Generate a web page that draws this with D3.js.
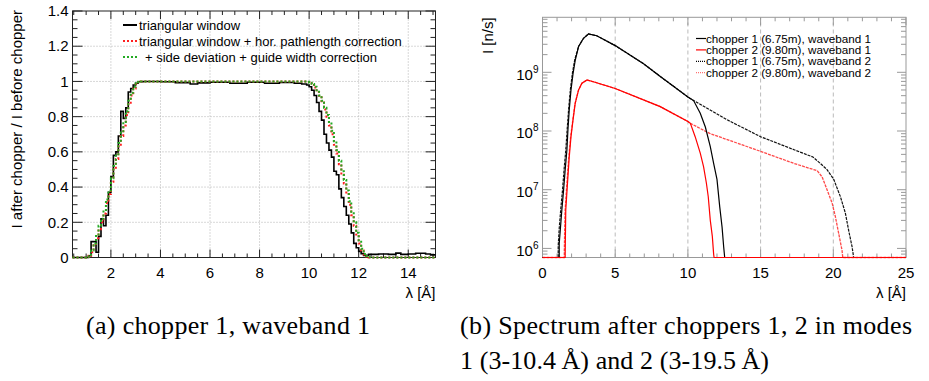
<!DOCTYPE html>
<html>
<head>
<meta charset="utf-8">
<script src="https://cdn.jsdelivr.net/npm/d3@7"></script>
<style>
  body { margin: 0; background: #fff; }
  text { font-family: "Liberation Sans", Arial, sans-serif; }
  .cap { font-family: "Liberation Serif", "DejaVu Serif", serif; }
</style>
</head>
<body>
<svg id="fig" width="929" height="381"></svg>
<script>
// ---------- panel (a): chopper 1, waveband 1 -- [lambda (Å), I after / I before]
const blackA = [[0.45,0],[1.1,0.01],[1.2,0.09],[1.4,0.03],[1.5,0.12],[1.6,0.22],[1.7,0.18],[1.8,0.24],
  [1.9,0.37],[2.0,0.46],[2.1,0.58],[2.2,0.6],[2.3,0.69],[2.4,0.83],[2.5,0.79],[2.6,0.85],[2.7,0.94],
  [2.8,0.96],[2.9,0.98],[3.0,0.99],[3.1,0.998],[3.3,1.0],[4.0,0.998],[4.6,0.993],[5.2,0.985],[5.5,0.992],
  [6.0,0.995],[6.8,0.99],[7.5,0.995],[8.2,0.99],[8.8,0.994],[9.4,0.99],[9.7,0.985],[9.9,0.98],[10.0,0.97],
  [10.1,0.95],[10.2,0.92],[10.3,0.88],[10.4,0.83],[10.5,0.78],[10.6,0.70],[10.7,0.65],[10.8,0.61],
  [10.9,0.57],[11.0,0.49],[11.1,0.47],[11.2,0.39],[11.3,0.34],[11.4,0.29],[11.5,0.24],[11.6,0.19],
  [11.7,0.14],[11.8,0.08],[11.9,0.055],[12.0,0.035],[12.1,0.022],[12.2,0.012],[12.4,0.018],[12.8,0.02],
  [13.2,0.018],[13.5,0.025],[13.7,0.018],[14.0,0.02],[14.3,0.024],[14.7,0.02],[14.9,0.015],[15.1,0.015]];

const redA = [[0.45,0],[1.0,0.003],[1.1,0.01],[1.2,0.03],[1.3,0.07],[1.4,0.11],[1.5,0.16],[1.6,0.2],
  [1.7,0.25],[1.8,0.31],[1.9,0.36],[2.0,0.43],[2.1,0.5],[2.2,0.56],[2.3,0.63],[2.4,0.69],[2.5,0.75],
  [2.6,0.81],[2.7,0.87],[2.8,0.92],[2.9,0.96],[3.0,0.985],[3.1,0.996],[3.2,1.0],[9.8,0.999],[9.9,0.997],
  [10.0,0.99],[10.1,0.98],[10.2,0.965],[10.3,0.94],[10.4,0.91],[10.5,0.88],[10.6,0.84],[10.7,0.8],
  [10.8,0.75],[10.9,0.7],[11.0,0.64],[11.1,0.59],[11.2,0.53],[11.3,0.47],[11.4,0.42],[11.5,0.36],
  [11.6,0.3],[11.7,0.24],[11.8,0.18],[11.9,0.13],[12.0,0.08],[12.1,0.04],[12.2,0.017],[12.3,0.006],
  [12.4,0],[15.1,0]];

const greenA = [[0.45,0],[1.0,0.004],[1.1,0.015],[1.2,0.04],[1.3,0.08],[1.4,0.13],[1.5,0.18],[1.6,0.22],
  [1.7,0.27],[1.8,0.33],[1.9,0.38],[2.0,0.45],[2.1,0.52],[2.2,0.58],[2.3,0.65],[2.4,0.71],[2.5,0.77],
  [2.6,0.83],[2.7,0.89],[2.8,0.935],[2.9,0.97],[3.0,0.99],[3.1,0.998],[3.2,1.0],[9.8,1.0],[9.9,0.998],
  [10.0,0.993],[10.1,0.985],[10.2,0.97],[10.3,0.95],[10.4,0.92],[10.5,0.89],[10.6,0.85],[10.7,0.81],
  [10.8,0.77],[10.9,0.72],[11.0,0.66],[11.1,0.61],[11.2,0.55],[11.3,0.49],[11.4,0.44],[11.5,0.38],
  [11.6,0.32],[11.7,0.26],[11.8,0.2],[11.9,0.14],[12.0,0.09],[12.1,0.05],[12.2,0.02],[12.3,0.008],
  [12.4,0.002],[12.5,0],[15.1,0]];

const legendA = ["triangular window", "triangular window + hor. pathlength correction",
  "+ side deviation + guide width correction"];
const xTicksA = [2, 4, 6, 8, 10, 12, 14];
const yTicksA = [0, 0.2, 0.4, 0.6, 0.8, 1, 1.2, 1.4];

// ---------- panel (b): spectrum after choppers -- [lambda (Å), I (n/s)]
const chop1wb1 = [[0,0],[1.15,0],[1.15,1.2e6],[1.22,2.0e6],[1.33,4.5e6],[1.45,9.8e6],[1.56,2.2e7],
  [1.68,4.8e7],[1.75,1.05e8],[1.84,2.3e8],[1.96,5.0e8],[2.1,9.5e8],[2.25,1.6e9],[2.48,2.75e9],
  [2.82,3.8e9],[3.16,4.5e9],[3.73,4.2e9],[5.0,2.85e9],[6.95,1.4e9],[8.1,8.5e8],[10.0,3.8e8],
  [10.39,3.3e8],[10.85,2.0e8],[11.2,1.17e8],[11.54,5.4e7],[11.77,2.8e7],[12.0,1.5e7],[12.19,5.1e6],
  [12.35,2.3e6],[12.46,1.07e6],[12.53,7e5],[12.53,0],[25,0]];

const chop2wb1 = [[0,0],[1.56,0],[1.56,8e5],[1.6,4.5e6],[1.72,1.3e7],[1.84,3.6e7],[1.96,8e7],
  [2.1,1.55e8],[2.25,2.95e8],[2.48,5e8],[2.71,6.5e8],[3.06,7.4e8],[3.5,6.9e8],[5.0,5.3e8],[8.1,2.6e8],
  [10.0,1.45e8],[10.17,1.35e8],[10.5,8e7],[10.85,4.2e7],[11.08,2.45e7],[11.27,1.3e7],[11.4,7.6e6],
  [11.54,3e6],[11.68,1.6e6],[11.77,8e5],[11.8,0],[25,0]];

const chop1wb2 = [[0,0],[1.08,0],[1.08,1.1e6],[1.15,2.2e6],[1.26,4.8e6],[1.38,1.0e7],[1.49,2.3e7],
  [1.61,5e7],[1.7,1.1e8],[1.8,2.4e8],[1.92,5.2e8],[2.06,9.8e8],[2.22,1.65e9],[2.48,2.75e9],
  [2.82,3.8e9],[3.16,4.5e9],[3.73,4.2e9],[5.0,2.85e9],[6.95,1.4e9],[8.1,8.5e8],[10.0,3.8e8],
  [10.39,3.3e8],[11.5,2.3e8],[12.7,1.55e8],[15.0,8e7],[17.3,4.8e7],[18.6,3.6e7],[19.11,2.8e7],
  [19.57,2.2e7],[20.03,1.5e7],[20.49,7.6e6],[20.83,4e6],[21.06,2.0e6],[21.29,1.07e6],[21.4,7e5],
  [21.4,0],[25,0]];

const chop2wb2 = [[0,0],[1.5,0],[1.5,9e5],[1.55,4.2e6],[1.67,1.2e7],[1.8,3.4e7],[1.93,7.8e7],
  [2.08,1.5e8],[2.23,2.9e8],[2.48,5e8],[2.71,6.5e8],[3.06,7.4e8],[3.5,6.9e8],[5.0,5.3e8],[8.1,2.6e8],
  [10.0,1.45e8],[10.17,1.35e8],[11.5,9.1e7],[15.0,4.5e7],[17.3,2.8e7],[18.65,2.2e7],[18.9,2.1e7],
  [19.23,1.65e7],[19.57,1e7],[19.92,5.9e6],[20.14,3.5e6],[20.37,1.8e6],[20.6,9.3e5],[20.65,7e5],
  [20.65,0],[25,0]];

const legendB = ["chopper 1 (6.75m), waveband 1", "chopper 2 (9.80m), waveband 1",
  "chopper 1 (6.75m), waveband 2", "chopper 2 (9.80m), waveband 2"];
const xTicksB = [0, 5, 10, 15, 20, 25];
const yTicksB = [1e6, 1e7, 1e8, 1e9];

const captionA = "(a) chopper 1, waveband 1";
const captionB = ["(b) Spectrum after choppers 1, 2 in modes", "1 (3-10.4\u2009Å) and 2 (3-19.5\u2009Å)"];

const svg = d3.select('#fig');
svg.append('rect').attr('width', 929).attr('height', 381).attr('fill', '#fff');

// inward ticks on all four sides plus the frame
function frameTicks(g, xs, ys, xMaj, xMin, yMaj, yMin, color, xLen, yLen) {
  const [x0, x1] = xs.range();
  const [y0, y1] = ys.range();
  const tk = g.append('g').attr('stroke', color).attr('stroke-width', 1);
  const xt = xMin.map(d => [d, xLen[1]]).concat(xMaj.map(d => [d, xLen[0]]));
  const yt = yMin.map(d => [d, yLen[1]]).concat(yMaj.map(d => [d, yLen[0]]));
  tk.selectAll('.xb').data(xt).join('line')
    .attr('x1', d => xs(d[0])).attr('x2', d => xs(d[0]))
    .attr('y1', y0).attr('y2', d => y0 - d[1]);
  tk.selectAll('.xt').data(xt).join('line')
    .attr('x1', d => xs(d[0])).attr('x2', d => xs(d[0]))
    .attr('y1', y1).attr('y2', d => y1 + d[1]);
  tk.selectAll('.yl').data(yt).join('line')
    .attr('y1', d => ys(d[0])).attr('y2', d => ys(d[0]))
    .attr('x1', x0).attr('x2', d => x0 + d[1]);
  tk.selectAll('.yr').data(yt).join('line')
    .attr('y1', d => ys(d[0])).attr('y2', d => ys(d[0]))
    .attr('x1', x1).attr('x2', d => x1 - d[1]);
  g.append('rect')
    .attr('x', x0).attr('y', y1)
    .attr('width', x1 - x0).attr('height', y0 - y1)
    .attr('fill', 'none').attr('stroke', color).attr('stroke-width', 1);
}

// =================== panel (a) ===================
const xA = d3.scaleLinear().domain([0.45, 15.1]).range([72.5, 435.5]);
const yA = d3.scaleLinear().domain([0, 1.4]).range([257.5, 11]);
const gA = svg.append('g');

// grid
gA.append('g').selectAll('line')
  .data(xTicksA)
  .join('line')
  .attr('x1', d => xA(d)).attr('x2', d => xA(d))
  .attr('y1', yA(0)).attr('y2', yA(1.4))
  .attr('stroke', '#b0b0b0').attr('stroke-dasharray', '1,2');
gA.append('g').selectAll('line')
  .data(yTicksA.slice(1, -1))
  .join('line')
  .attr('x1', xA.range()[0]).attr('x2', xA.range()[1])
  .attr('y1', d => yA(d)).attr('y2', d => yA(d))
  .attr('stroke', '#b0b0b0').attr('stroke-dasharray', '1,2');

frameTicks(gA, xA, yA,
  xTicksA, d3.range(0.5, 15.01, 0.5).filter(d => d % 2 !== 0),
  yTicksA, d3.range(0, 1.401, 0.05).filter(d => Math.abs(d * 5 - Math.round(d * 5)) > 1e-6),
  '#222', [8, 4], [10, 5]);

const lineA = d3.line()
  .x(d => xA(d[0]))
  .y(d => yA(d[1]))
  .curve(d3.curveStepAfter);

gA.append('path').datum(blackA).attr('d', lineA)
  .attr('fill', 'none').attr('stroke', '#000').attr('stroke-width', 1.6);
gA.append('path').datum(redA).attr('d', lineA)
  .attr('fill', 'none').attr('stroke', '#ff2020').attr('stroke-width', 2).attr('stroke-dasharray', '2,2');
gA.append('path').datum(greenA).attr('d', lineA)
  .attr('fill', 'none').attr('stroke', '#22aa22').attr('stroke-width', 2).attr('stroke-dasharray', '2,2');

// tick labels
gA.append('g').selectAll('text')
  .data(xTicksA)
  .join('text')
  .attr('x', d => xA(d)).attr('y', yA(0) + 15)
  .attr('text-anchor', 'middle').attr('font-size', 15).attr('dy', '0.35em')
  .text(d => d);
gA.append('g').selectAll('text')
  .data(yTicksA)
  .join('text')
  .attr('x', xA.range()[0] - 4).attr('y', d => yA(d))
  .attr('text-anchor', 'end').attr('font-size', 15).attr('dy', '0.35em')
  .text(d => d);

gA.append('text')
  .attr('x', xA.range()[1]).attr('y', 293).attr('dy', '0.35em')
  .attr('text-anchor', 'end').attr('font-size', 15)
  .text('λ [Å]');
gA.append('text')
  .attr('transform', `translate(17,${yA(1.4) - 1}) rotate(-90)`)
  .attr('dy', '0.35em').attr('text-anchor', 'end').attr('font-size', 15)
  .text('I after chopper / I before chopper');

// legend (a)
const legA = gA.append('g');
const styleA = [
  { c: '#000', dash: null },
  { c: '#ff2020', dash: '2,2' },
  { c: '#22aa22', dash: '2,2' }
];
legendA.forEach((t, i) => {
  const y = 25 + i * 16;
  legA.append('line')
    .attr('x1', 123).attr('x2', 137).attr('y1', y).attr('y2', y)
    .attr('stroke', styleA[i].c).attr('stroke-width', 2)
    .attr('stroke-dasharray', styleA[i].dash);
  legA.append('text')
    .attr('x', i === 2 ? 145 : 139).attr('y', y).attr('dy', '0.35em')
    .attr('font-size', 13).text(t);
});

// =================== panel (b) ===================
const xB = d3.scaleLinear().domain([0, 25]).range([542.5, 906]);
const yB = d3.scaleLog().domain([7e5, 8.65e9]).range([257.5, 17.3]);
const gB = svg.append('g');

gB.append('g').selectAll('line')
  .data(xTicksB.slice(1, -1))
  .join('line')
  .attr('x1', d => xB(d)).attr('x2', d => xB(d))
  .attr('y1', yB.range()[0]).attr('y2', yB.range()[1])
  .attr('stroke', '#bbb').attr('stroke-dasharray', '4,3');

const minorLog = [];
[1e5, 1e6, 1e7, 1e8, 1e9].forEach(dec => {
  for (let k = 2; k <= 9; k++) {
    const v = dec * k;
    if (v > 7e5 && v < 8.65e9) minorLog.push(v);
  }
});

frameTicks(gB, xB, yB,
  xTicksB, d3.range(1, 25, 1).filter(d => d % 5 !== 0),
  yTicksB, minorLog,
  '#999', [8, 4], [9, 5]);

const clampB = v => Math.max(v, yB.domain()[0]);
const lineB = d3.line()
  .x(d => xB(d[0]))
  .y(d => yB(clampB(d[1])));

gB.append('path').datum(chop1wb2).attr('d', lineB)
  .attr('fill', 'none').attr('stroke', '#111').attr('stroke-width', 1.2).attr('stroke-dasharray', '3,1');
gB.append('path').datum(chop2wb2).attr('d', lineB)
  .attr('fill', 'none').attr('stroke', '#ff4848').attr('stroke-width', 1.3).attr('stroke-dasharray', '3,1');
gB.append('path').datum(chop1wb1).attr('d', lineB)
  .attr('fill', 'none').attr('stroke', '#000').attr('stroke-width', 1.2);
gB.append('path').datum(chop2wb1).attr('d', lineB)
  .attr('fill', 'none').attr('stroke', '#ff0000').attr('stroke-width', 1.2);

gB.append('g').selectAll('text')
  .data(xTicksB)
  .join('text')
  .attr('x', d => xB(d)).attr('y', yB.range()[0] + 15)
  .attr('text-anchor', 'middle').attr('font-size', 15).attr('dy', '0.35em')
  .text(d => d);

const yLab = gB.append('g').selectAll('text')
  .data(yTicksB)
  .join('text')
  .attr('x', xB.range()[0] - 4).attr('y', d => yB(d) + 2)
  .attr('text-anchor', 'end').attr('font-size', 15).attr('dy', '0.35em');
yLab.append('tspan').text('10');
yLab.append('tspan').attr('font-size', 10).attr('dy', -7)
  .text(d => Math.round(Math.log10(d)));

gB.append('text')
  .attr('x', xB.range()[1]).attr('y', 293).attr('dy', '0.35em')
  .attr('text-anchor', 'end').attr('font-size', 15)
  .text('λ [Å]');
gB.append('text')
  .attr('transform', `translate(488,${yB.range()[1]}) rotate(-90)`)
  .attr('dy', '0.35em').attr('text-anchor', 'end').attr('font-size', 15)
  .text('I [n/s]');

const legB = gB.append('g');
const styleB = [
  { c: '#000', dash: null },
  { c: '#ff0000', dash: null },
  { c: '#000', dash: '1,1' },
  { c: '#ff7070', dash: '1,1' }
];
legendB.forEach((t, i) => {
  const y = 38.5 + i * 11.4;
  legB.append('line')
    .attr('x1', 696).attr('x2', 706).attr('y1', y).attr('y2', y)
    .attr('stroke', styleB[i].c).attr('stroke-width', 1.2)
    .attr('stroke-dasharray', styleB[i].dash);
  legB.append('text')
    .attr('x', 706).attr('y', y).attr('dy', '0.35em')
    .attr('font-size', 11.7).text(t);
});

// captions (serif, widths matched to the reference)
svg.append('text').attr('class', 'cap')
  .attr('x', 86).attr('y', 334).attr('font-size', 26)
  .attr('textLength', 284).attr('lengthAdjust', 'spacing')
  .text(captionA);
const capWidthsB = [452, 309];
captionB.forEach((t, i) => {
  svg.append('text').attr('class', 'cap')
    .attr('x', 460).attr('y', 334 + i * 35).attr('font-size', 26)
    .attr('textLength', capWidthsB[i]).attr('lengthAdjust', 'spacing')
    .text(t);
});
</script>
</body>
</html>
